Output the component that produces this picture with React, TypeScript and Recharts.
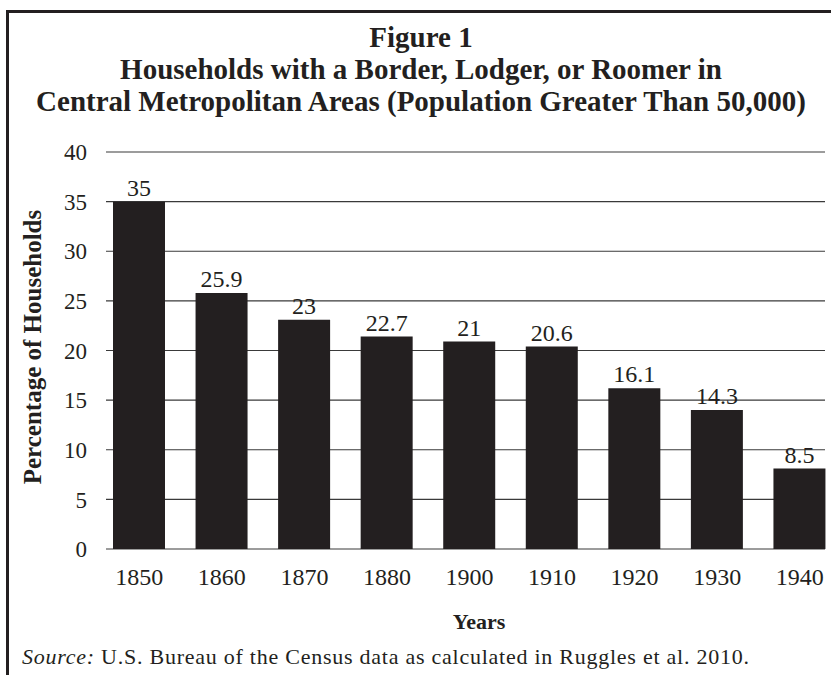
import React from 'react';
import { BarChart, Bar, XAxis, YAxis, CartesianGrid, LabelList } from 'recharts';

// census years on the x axis
const years = ['1850', '1860', '1870', '1880', '1900', '1910', '1920', '1930', '1940'];
// bar heights as drawn in the figure
const barHeights = [35, 25.8, 23.1, 21.4, 20.9, 20.4, 16.2, 14.0, 8.1];
// values printed above the bars
const printedLabels = ['35', '25.9', '23', '22.7', '21', '20.6', '16.1', '14.3', '8.5'];
const yTicks = [0, 5, 10, 15, 20, 25, 30, 35, 40];

const titleLines = [
    'Figure 1',
    'Households with a Border, Lodger, or Roomer in',
    'Central Metropolitan Areas (Population Greater Than 50,000)',
];

const data = years.map((year, i) => ({
    year,
    share: barHeights[i],
    label: printedLabels[i],
}));

const ink = '#231f20';
const serif = '"Liberation Serif", "Times New Roman", serif';

export default function App() {
    return (
        <div style={{ position: 'absolute', left: 0, top: 0, width: 831, height: 675, overflow: 'hidden', background: '#fff', fontFamily: serif, color: ink }}>
            <div style={{ position: 'absolute', left: 6, top: 10, width: 840, height: 700, borderLeft: `3px solid ${ink}`, borderTop: `3px solid ${ink}` }} />

            {titleLines.map((line, i) => (
                <div
                    key={i}
                    style={{ position: 'absolute', left: 6, width: 830, top: 22 + i * 32, textAlign: 'center', fontSize: 29, fontWeight: 700, lineHeight: '30px', whiteSpace: 'nowrap' }}
                >
                    {line}
                </div>
            ))}

            <div style={{ position: 'absolute', left: 0, top: 0 }}>
                <BarChart
                    width={831}
                    height={675}
                    data={data}
                    margin={{ top: 152, right: 6, left: 46, bottom: 66 }}
                    barSize={52}
                >
                    <CartesianGrid vertical={false} stroke="#3a3a3a" strokeWidth={1.2} />
                    <XAxis
                        dataKey="year"
                        height={60}
                        padding={{ left: -8, right: -16 }}
                        axisLine={false}
                        tickLine={false}
                        tickSize={0}
                        tickMargin={19}
                        tick={{ fill: ink, fontSize: 24, fontFamily: serif }}
                        interval={0}
                    />
                    <YAxis
                        width={60}
                        domain={[0, 40]}
                        ticks={yTicks}
                        axisLine={false}
                        tickLine={false}
                        tickSize={0}
                        tickMargin={19}
                        tick={{ fill: ink, fontSize: 23, fontFamily: serif }}
                        interval={0}
                    />
                    <Bar dataKey="share" fill={ink} isAnimationActive={false}>
                        <LabelList dataKey="label" position="top" offset={6} fill={ink} fontSize={24} fontFamily={serif} />
                    </Bar>
                </BarChart>
            </div>

            <div style={{ position: 'absolute', left: 33, top: 347, transform: 'translate(-50%, -50%) rotate(-90deg)', fontSize: 25, fontWeight: 700, whiteSpace: 'nowrap' }}>
                Percentage of Households
            </div>

            <div style={{ position: 'absolute', left: 479, top: 622, transform: 'translate(-50%, -50%)', fontSize: 22, fontWeight: 700, whiteSpace: 'nowrap' }}>
                Years
            </div>

            <div style={{ position: 'absolute', left: 22, top: 657, transform: 'translateY(-50%)', fontSize: 22, letterSpacing: 0.75, whiteSpace: 'nowrap' }}>
                <i>Source:</i> U.S. Bureau of the Census data as calculated in Ruggles et al. 2010.
            </div>
        </div>
    );
}
